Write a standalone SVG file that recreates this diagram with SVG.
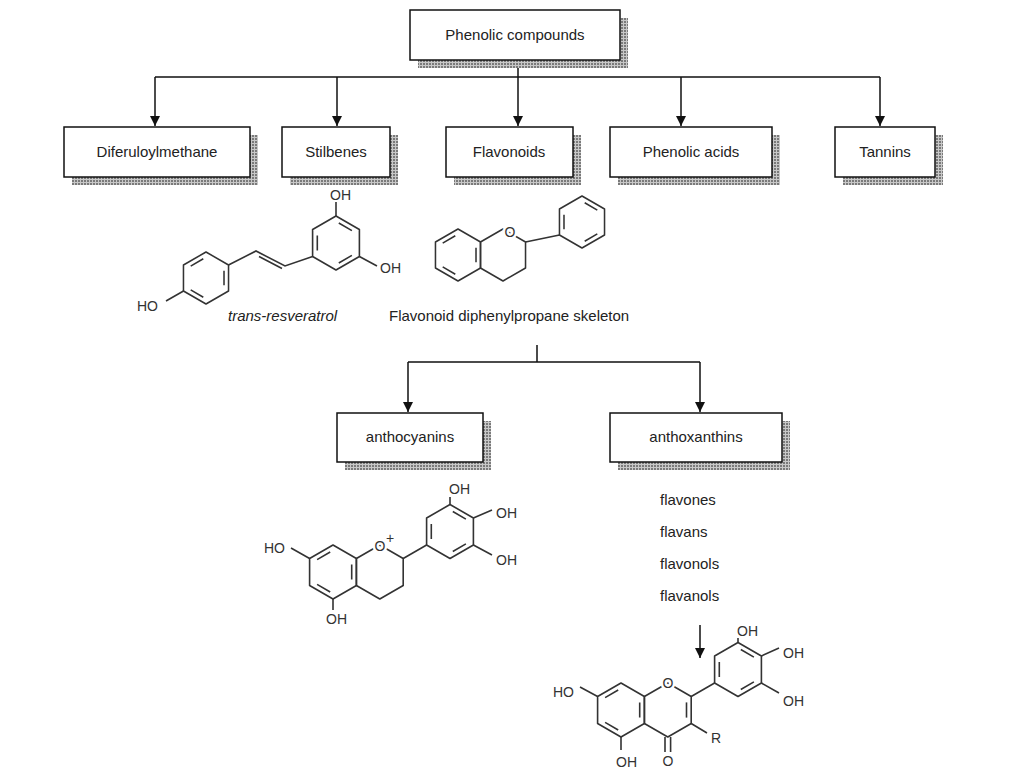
<svg xmlns="http://www.w3.org/2000/svg" width="1024" height="768" viewBox="0 0 1024 768">
<defs>
<pattern id="chk" width="3" height="3" patternUnits="userSpaceOnUse"><rect width="3" height="3" fill="#c8c8c8"/><rect width="2" height="2" fill="#7a7a7a"/></pattern>
<marker id="ah" viewBox="0 0 10 10" refX="10" refY="5" markerWidth="10" markerHeight="10" markerUnits="userSpaceOnUse" orient="auto"><path d="M0,0L10,5L0,10Z" fill="#111"/></marker>
<path id="hex" d="M0,-27L23.4,-13.5L23.4,13.5L0,27L-23.4,13.5L-23.4,-13.5Z" fill="none" stroke="#333" stroke-width="1.6" stroke-linejoin="round"/>
<path id="inA" d="M2.8,-20L15.9,-12.4M15.9,12.4L2.8,20M-18.7,7.6L-18.7,-7.6" fill="none" stroke="#333" stroke-width="1.6"/>
<path id="inB" d="M18.7,-7.6L18.7,7.6M-2.8,20L-15.9,12.4M-15.9,-12.4L-2.8,-20" fill="none" stroke="#333" stroke-width="1.6"/>
</defs>
<style>
.box{fill:#fff;stroke:#111;stroke-width:1.5}
.sh{fill:url(#chk)}
.t{font-family:"Liberation Sans",Arial,sans-serif;font-size:15px;fill:#222}
.c{text-anchor:middle}
.a{font-family:"Liberation Sans",Arial,sans-serif;font-size:14px;fill:#333}
.ln{stroke:#111;stroke-width:1.5;fill:none}
.b{stroke:#333;stroke-width:1.6;fill:none}
.o{paint-order:stroke;stroke:#fff;stroke-width:5px}
</style>
<rect width="1024" height="768" fill="#fff"/>
<g id="connectors">
<path class="ln" d="M518,60V77M155,77H880"/>
<path class="ln" d="M155,77V126" marker-end="url(#ah)"/>
<path class="ln" d="M337,77V126" marker-end="url(#ah)"/>
<path class="ln" d="M518,77V126" marker-end="url(#ah)"/>
<path class="ln" d="M681,77V126" marker-end="url(#ah)"/>
<path class="ln" d="M880,77V126" marker-end="url(#ah)"/>
<path class="ln" d="M537,345V362M408,362H700"/>
<path class="ln" d="M408,362V412" marker-end="url(#ah)"/>
<path class="ln" d="M700,362V412" marker-end="url(#ah)"/>
<path class="ln" d="M700,625V658" marker-end="url(#ah)"/>
</g>
<g id="n-phenolic"><rect class="sh" x="418" y="18" width="210" height="50"/><rect class="box" x="410" y="10" width="210" height="50"/><text class="t c" x="515" y="40">Phenolic compounds</text></g>
<g id="n-difer"><rect class="sh" x="72" y="135" width="186" height="50"/><rect class="box" x="64" y="127" width="186" height="50"/><text class="t c" x="157" y="157">Diferuloylmethane</text></g>
<g id="n-stil"><rect class="sh" x="290" y="135" width="108" height="50"/><rect class="box" x="282" y="127" width="108" height="50"/><text class="t c" x="336" y="157">Stilbenes</text></g>
<g id="n-flav"><rect class="sh" x="454" y="135" width="127" height="50"/><rect class="box" x="446" y="127" width="127" height="50"/><text class="t c" x="509" y="157">Flavonoids</text></g>
<g id="n-pacid"><rect class="sh" x="618" y="135" width="162" height="50"/><rect class="box" x="610" y="127" width="162" height="50"/><text class="t c" x="691" y="157">Phenolic acids</text></g>
<g id="n-tann"><rect class="sh" x="843" y="135" width="100" height="50"/><rect class="box" x="835" y="127" width="100" height="50"/><text class="t c" x="885" y="157">Tannins</text></g>
<g id="n-antho"><rect class="sh" x="345" y="421" width="146" height="49"/><rect class="box" x="337" y="413" width="146" height="49"/><text class="t c" x="410" y="442">anthocyanins</text></g>
<g id="n-anthox"><rect class="sh" x="618" y="421" width="172" height="49"/><rect class="box" x="610" y="413" width="172" height="49"/><text class="t c" x="696" y="442">anthoxanthins</text></g>
<g id="list">
<text class="t" x="660" y="505">flavones</text>
<text class="t" x="660" y="537">flavans</text>
<text class="t" x="660" y="569">flavonols</text>
<text class="t" x="660" y="601">flavanols</text>
</g>
<g id="resveratrol">
<g transform="translate(336,243)"><use href="#hex"/><use href="#inA"/></g>
<g transform="translate(206,278) scale(0.963)"><use href="#hex"/><use href="#inB"/></g>
<path class="b" d="M228.5,265L256,251L285,266L312.6,256.5M259,256.5L282,268.5M336,216V202M359.4,256.5L377,266M183.5,291L166,301"/>
<text class="a" x="330" y="200">OH</text>
<text class="a" x="380" y="273">OH</text>
<text class="a" x="137" y="311">HO</text>
<text class="t" x="228" y="321" font-style="italic">trans-resveratrol</text>
</g>
<g id="flavan">
<g transform="translate(458,255) scale(0.963)"><use href="#hex"/><use href="#inB"/></g>
<g transform="translate(503,255) scale(0.963)"><use href="#hex"/></g>
<g transform="translate(582,222) scale(0.963)"><use href="#hex"/><use href="#inA"/></g>
<path class="b" d="M525.5,242L559.5,235"/>
<text class="a o c" x="510" y="237" font-size="16">O</text>
<text class="t" x="389" y="321">Flavonoid diphenylpropane skeleton</text>
</g>
<g id="anthocyanidin">
<g transform="translate(333,572)"><use href="#hex"/><use href="#inB"/></g>
<g transform="translate(379.8,572)"><use href="#hex"/></g>
<g transform="translate(450,531.5)"><use href="#hex"/><use href="#inA"/></g>
<path class="b" d="M403.2,558.5L426.6,545M450,504.5V497M473.4,518L492,510M473.4,545L492,555M309.6,558.5L291,548M333,599V610"/>
<text class="a o c" x="380" y="551">O</text><text class="a" x="386" y="543" font-size="9">+</text>
<text class="a" x="449" y="494">OH</text>
<text class="a" x="496" y="518">OH</text>
<text class="a" x="496" y="565">OH</text>
<text class="a" x="264" y="553">HO</text>
<text class="a" x="326" y="624">OH</text>
</g>
<g id="flavonol">
<g transform="translate(621,710)"><use href="#hex"/><use href="#inB"/></g>
<g transform="translate(667.8,710)"><use href="#hex"/><path class="b" d="M18.7,-7.6L18.7,7.6"/></g>
<g transform="translate(738,669.5)"><use href="#hex"/><use href="#inA"/></g>
<path class="b" d="M691.2,696.5L714.6,683M738,642.5V638M761.4,656L779,648M761.4,683L779,693M597.6,696.5L580,687M621,737V750M665,737V752M670.6,737V752M691.2,723.5L707,733"/>
<text class="a o c" x="668" y="688">O</text>
<text class="a" x="737" y="636">OH</text>
<text class="a" x="783" y="658">OH</text>
<text class="a" x="783" y="706">OH</text>
<text class="a" x="553" y="697">HO</text>
<text class="a" x="616" y="767">OH</text>
<text class="a c" x="668" y="766">O</text>
<text class="a" x="711" y="743">R</text>
</g>
</svg>
